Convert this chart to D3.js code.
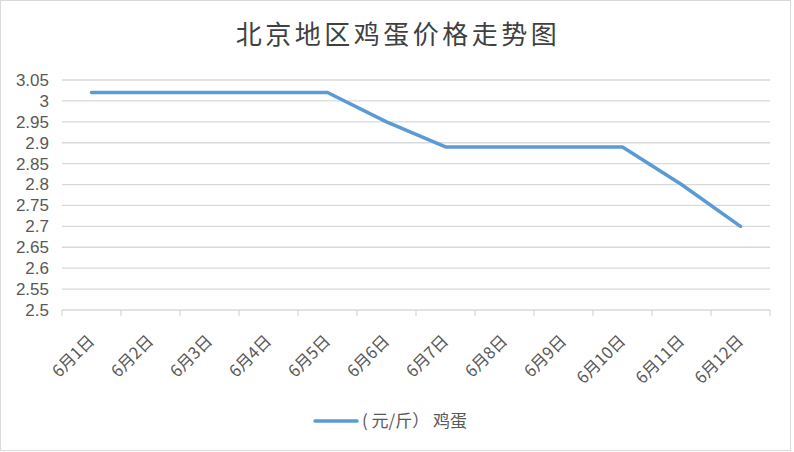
<!DOCTYPE html>
<html><head><meta charset="utf-8">
<script src="https://cdn.jsdelivr.net/npm/d3@7"></script>
<style>html,body{margin:0;padding:0;background:#fff}svg{display:block}</style>
</head><body>
<script>
const categories = ["6月1日","6月2日","6月3日","6月4日","6月5日","6月6日","6月7日","6月8日","6月9日","6月10日","6月11日","6月12日"];
const values = [3.02,3.02,3.02,3.02,3.02,2.95,2.89,2.89,2.89,2.89,2.80,2.70];
const yTicks = [2.5,2.55,2.6,2.65,2.7,2.75,2.8,2.85,2.9,2.95,3,3.05];
const seriesName = "( 元/斤） 鸡蛋";
const titleText = "北京地区鸡蛋价格走势图";

const W = 794, H = 452;
const m = {left: 62, right: 24, top: 80, bottom: 142};
const svg = d3.select("body").append("svg").attr("width", W).attr("height", H);
const font = "'Noto Sans CJK SC', 'Noto Sans', sans-serif";
const numFont = "'Liberation Sans', Arial, sans-serif";

svg.append("rect").attr("x",0.5).attr("y",0.5).attr("width",W-4).attr("height",H-2)
  .attr("fill","#fff").attr("stroke","#d9d9d9");

const x = d3.scaleBand().domain(categories).range([m.left, W - m.right]);
const y = d3.scaleLinear().domain([2.5, 3.05]).range([H - m.bottom, m.top]);

// gridlines
svg.append("g").selectAll("line").data(yTicks.filter(d => d > 2.5)).join("line")
  .attr("x1", m.left).attr("x2", W - m.right)
  .attr("y1", d => y(d)).attr("y2", d => y(d))
  .attr("stroke", "#d9d9d9").attr("stroke-width", 1.3);

// y axis labels
const yAxis = d3.axisLeft(y).tickValues(yTicks).tickFormat(d => d3.format("")(+d.toFixed(2))).tickSize(0).tickPadding(13);
const gy = svg.append("g").attr("transform", `translate(${m.left},0)`).call(yAxis);
gy.select(".domain").remove();
gy.selectAll("text").attr("font-family", numFont).attr("font-size", 17).attr("fill", "#595959");

// x axis
const gx = svg.append("g").attr("transform", `translate(0,${H - m.bottom})`);
gx.append("line").attr("x1", m.left).attr("x2", W - m.right).attr("stroke", "#d9d9d9").attr("stroke-width", 1.3);
const bounds = categories.map(c => x(c)).concat([x(categories[categories.length-1]) + x.bandwidth()]);
gx.selectAll("line.tk").data(bounds).join("line").attr("class","tk")
  .attr("x1", d => d).attr("x2", d => d).attr("y1", 0).attr("y2", 6)
  .attr("stroke", "#d9d9d9").attr("stroke-width", 1.3);
gx.selectAll("text").data(categories).join("text")
  .attr("transform", d => `translate(${x(d) + x.bandwidth()/2 + 4},${32}) rotate(-45)`)
  .attr("text-anchor", "end")
  .attr("font-family", font).attr("font-size", 16.5).attr("fill", "#595959")
  .text(d => d);

// line
const line = d3.line().x((d,i) => x(categories[i]) + x.bandwidth()/2).y(d => y(d));
svg.append("path").datum(values).attr("d", line)
  .attr("fill", "none").attr("stroke", "#5b9bd5").attr("stroke-width", 3.5)
  .attr("stroke-linejoin", "round").attr("stroke-linecap", "round");

// title
svg.append("text").attr("x", 398).attr("y", 44).attr("text-anchor", "middle")
  .attr("font-family", font).attr("font-size", 26).attr("letter-spacing", 3.5)
  .attr("fill", "#404040").text(titleText);

// legend
const lg = svg.append("g");
lg.append("line").attr("x1", 315).attr("x2", 357).attr("y1", 421).attr("y2", 421)
  .attr("stroke", "#5b9bd5").attr("stroke-width", 3.5).attr("stroke-linecap", "round");
lg.append("text").attr("x", 362).attr("y", 427).attr("font-family", font).attr("font-size", 17)
  .attr("fill", "#595959").text(seriesName);
</script>
</body></html>
